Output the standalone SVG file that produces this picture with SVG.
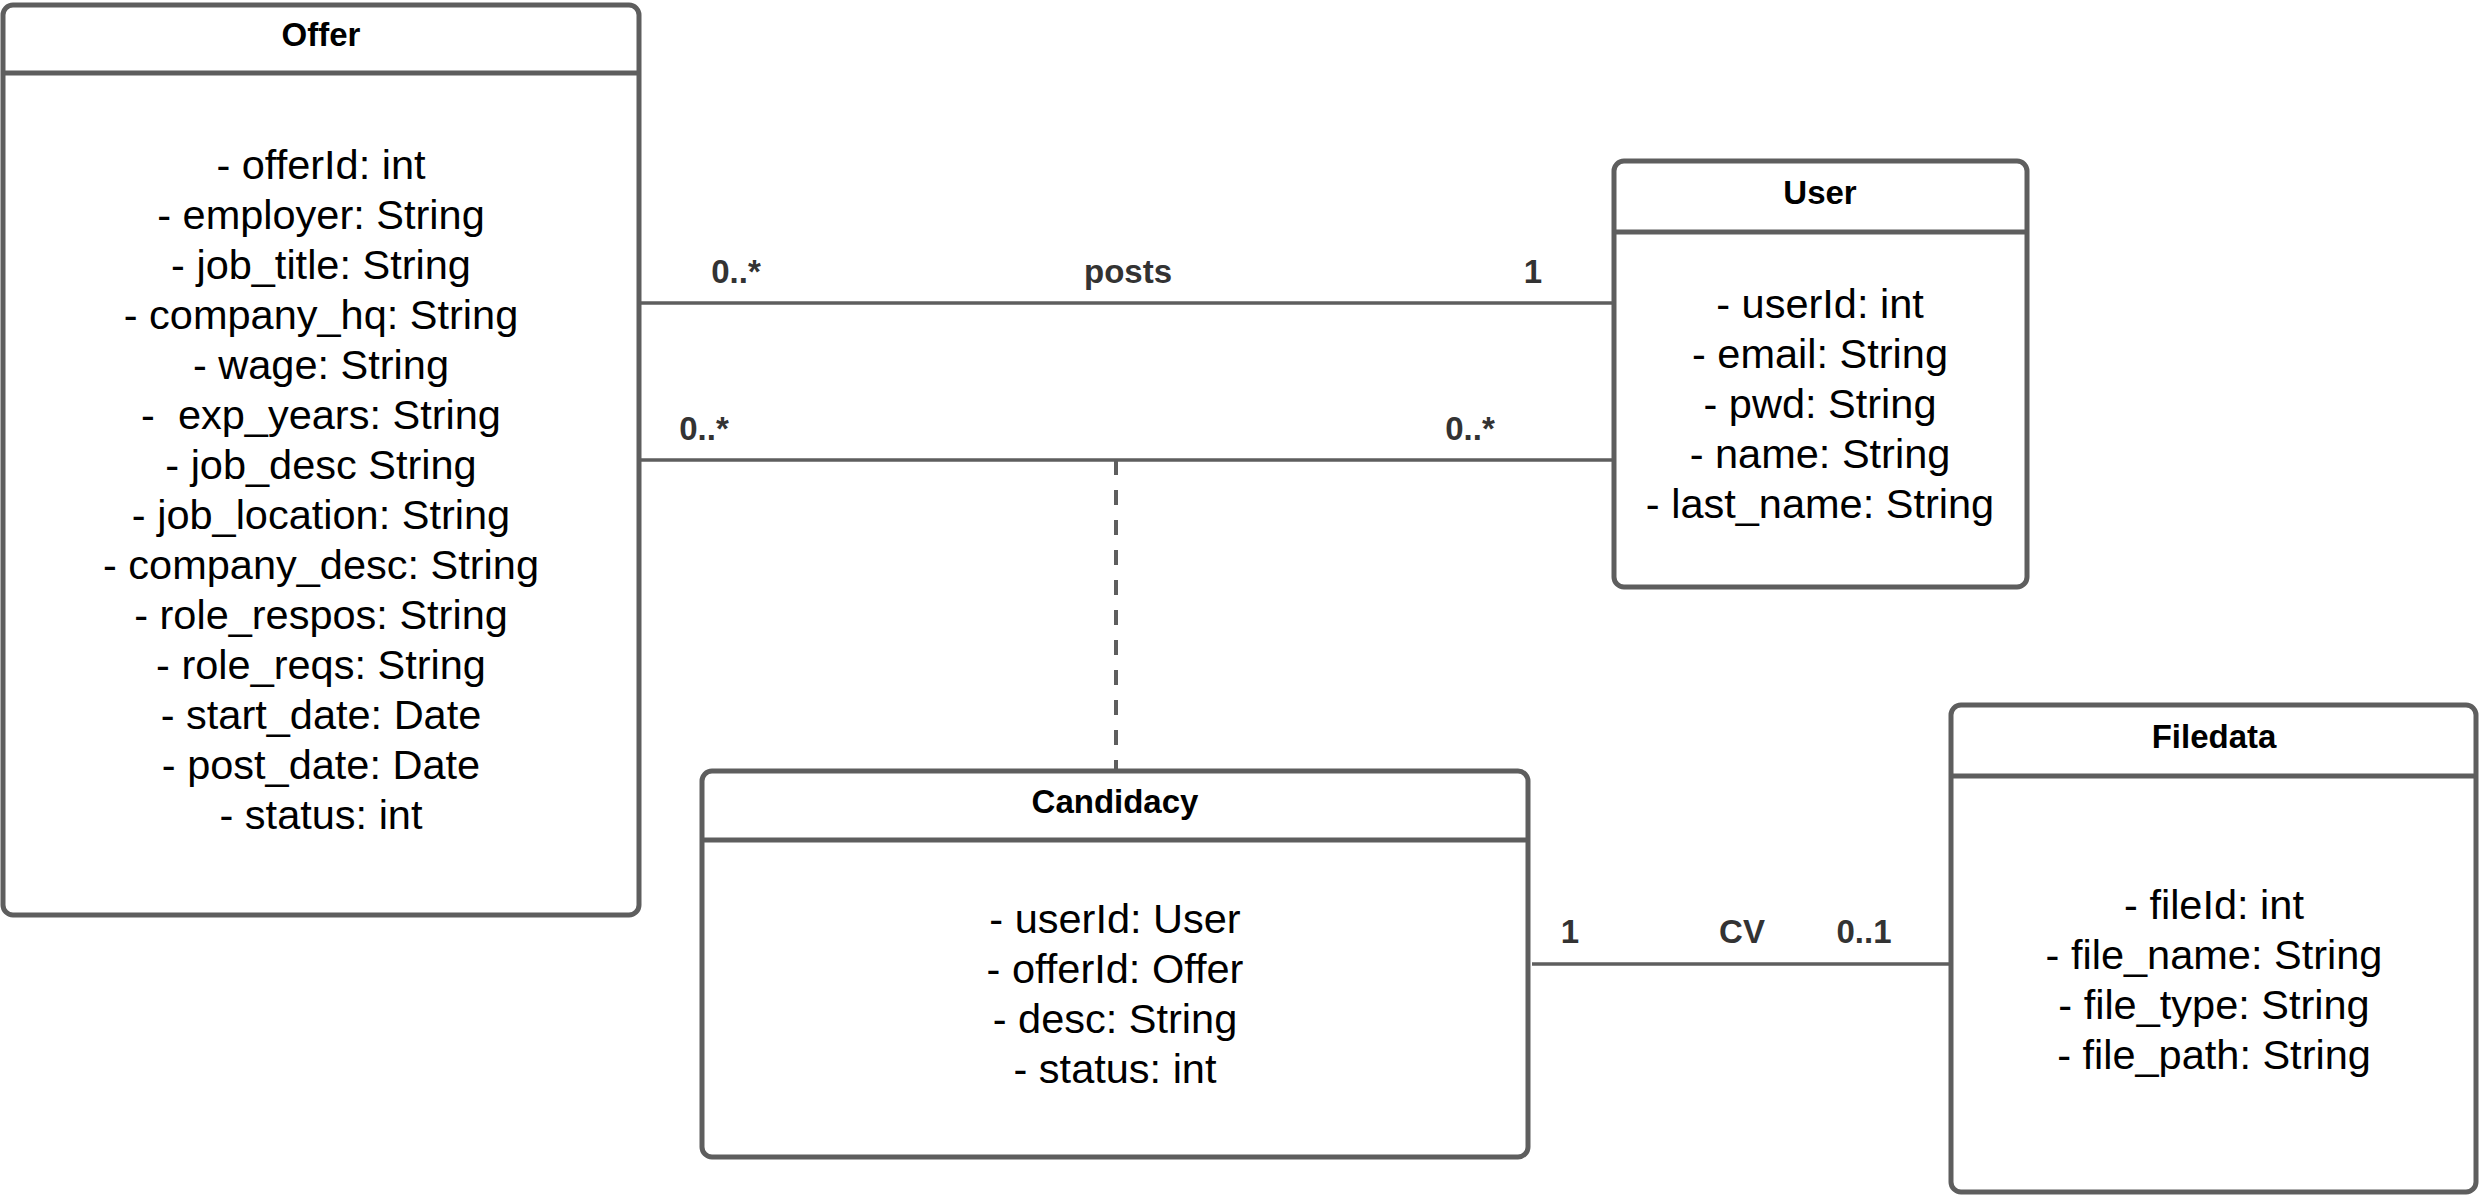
<svg xmlns="http://www.w3.org/2000/svg" width="2481" height="1196" viewBox="0 0 2481 1196">
<style>
.box{fill:#ffffff;stroke:#5e5e5e;stroke-width:5}
.sep{stroke:#5e5e5e;stroke-width:5}
.title{font-family:"Liberation Sans",Arial,sans-serif;font-weight:bold;font-size:33px;fill:#000000;text-anchor:middle}
.attr{font-family:"Liberation Sans",Arial,sans-serif;font-size:41.5px;fill:#000000;text-anchor:middle;white-space:pre}
.lbl{font-family:"Liberation Sans",Arial,sans-serif;font-weight:bold;font-size:33px;fill:#333333;text-anchor:middle}
.edge{stroke:#5e5e5e;stroke-width:3.5;fill:none}
.dash{stroke:#5e5e5e;stroke-width:4;fill:none;stroke-dasharray:15 15}
</style>
<rect width="2481" height="1196" fill="#ffffff"/>
<g id="connectors">
  <line class="edge" x1="641" y1="303" x2="1614" y2="303"/>
  <line class="edge" x1="641" y1="460" x2="1614" y2="460"/>
  <line class="dash" x1="1116" y1="460" x2="1116" y2="771"/>
  <line class="edge" x1="1532" y1="964" x2="1951" y2="964"/>
  <text class="lbl" x="736" y="283">0..*</text>
  <text class="lbl" x="1128" y="283">posts</text>
  <text class="lbl" x="1533" y="283">1</text>
  <text class="lbl" x="704" y="440">0..*</text>
  <text class="lbl" x="1470" y="440">0..*</text>
  <text class="lbl" x="1570" y="943">1</text>
  <text class="lbl" x="1742" y="943">CV</text>
  <text class="lbl" x="1864" y="943">0..1</text>
</g>
<g id="offer">
  <rect class="box" x="3" y="5" width="636" height="910" rx="10"/>
  <line class="sep" x1="3" y1="73" x2="639" y2="73"/>
  <text class="title" x="321" y="46">Offer</text>
  <text class="attr" x="321" y="179">- offerId: int</text>
  <text class="attr" x="321" y="229">- employer: String</text>
  <text class="attr" x="321" y="279">- job_title: String</text>
  <text class="attr" x="321" y="329">- company_hq: String</text>
  <text class="attr" x="321" y="379">- wage: String</text>
  <text class="attr" x="321" y="429" xml:space="preserve">-  exp_years: String</text>
  <text class="attr" x="321" y="479">- job_desc String</text>
  <text class="attr" x="321" y="529">- job_location: String</text>
  <text class="attr" x="321" y="579">- company_desc: String</text>
  <text class="attr" x="321" y="629">- role_respos: String</text>
  <text class="attr" x="321" y="679">- role_reqs: String</text>
  <text class="attr" x="321" y="729">- start_date: Date</text>
  <text class="attr" x="321" y="779">- post_date: Date</text>
  <text class="attr" x="321" y="829">- status: int</text>
</g>
<g id="user">
  <rect class="box" x="1614" y="161" width="413" height="426" rx="10"/>
  <line class="sep" x1="1614" y1="232" x2="2027" y2="232"/>
  <text class="title" x="1820" y="204">User</text>
  <text class="attr" x="1820" y="318">- userId: int</text>
  <text class="attr" x="1820" y="368">- email: String</text>
  <text class="attr" x="1820" y="418">- pwd: String</text>
  <text class="attr" x="1820" y="468">- name: String</text>
  <text class="attr" x="1820" y="518">- last_name: String</text>
</g>
<g id="candidacy">
  <rect class="box" x="702" y="771" width="826" height="386" rx="10"/>
  <line class="sep" x1="702" y1="840" x2="1528" y2="840"/>
  <text class="title" x="1115" y="813">Candidacy</text>
  <text class="attr" x="1115" y="933">- userId: User</text>
  <text class="attr" x="1115" y="983">- offerId: Offer</text>
  <text class="attr" x="1115" y="1033">- desc: String</text>
  <text class="attr" x="1115" y="1083">- status: int</text>
</g>
<g id="filedata">
  <rect class="box" x="1951" y="705" width="525" height="487" rx="10"/>
  <line class="sep" x1="1951" y1="776" x2="2476" y2="776"/>
  <text class="title" x="2214" y="748">Filedata</text>
  <text class="attr" x="2214" y="919">- fileId: int</text>
  <text class="attr" x="2214" y="969">- file_name: String</text>
  <text class="attr" x="2214" y="1019">- file_type: String</text>
  <text class="attr" x="2214" y="1069">- file_path: String</text>
</g>
</svg>
